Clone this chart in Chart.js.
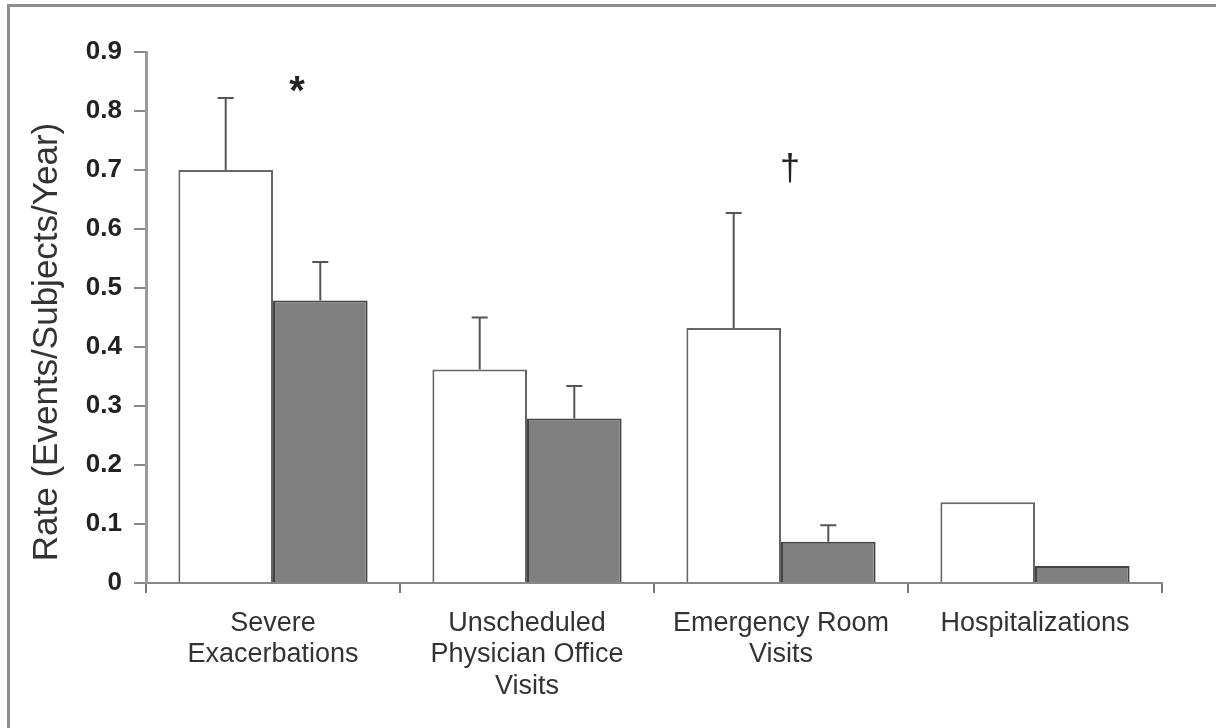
<!DOCTYPE html>
<html>
<head>
<meta charset="utf-8">
<script src="https://cdn.jsdelivr.net/npm/chart.js@4.4.1/dist/chart.umd.min.js"></script>
<style>
  html, body { margin: 0; padding: 0; background: #fff; }
  #wrap { position: relative; width: 1216px; height: 728px; overflow: hidden; }
  #frame { position: absolute; left: 7px; top: 4px; right: -10px; bottom: -10px;
           border-top: 3px solid #8e8e8e; border-left: 3px solid #8e8e8e; pointer-events: none; }
  canvas { position: absolute; left: 0; top: 0; }
</style>
</head>
<body>
<div id="wrap">
  <canvas id="rateChart" width="1216" height="728"></canvas>
  <div id="frame"></div>
</div>
<script>
// data
const categories = [
  ['Severe', 'Exacerbations'],
  ['Unscheduled', 'Physician Office', 'Visits'],
  ['Emergency Room', 'Visits'],
  ['Hospitalizations']
];
const controlRates = [0.70, 0.362, 0.432, 0.137];
const controlErr   = [0.122, 0.088, 0.195, 0];
const treatedRates = [0.479, 0.279, 0.070, 0.029];
const treatedErr   = [0.065, 0.055, 0.028, 0];
const yTicks = [0, 0.1, 0.2, 0.3, 0.4, 0.5, 0.6, 0.7, 0.8, 0.9];
const yTitle = 'Rate (Events/Subjects/Year)';
const marks = [
  { index: 0, value: 0.84, text: '*', dx: 24 },
  { index: 2, value: 0.70, text: '\u2020', dx: 9 }
];

const errors = [controlErr, treatedErr];

// one-sided error bars (upper whisker + cap)
const errorBars = {
  id: 'errorBars',
  afterDatasetsDraw(chart) {
    const { ctx } = chart;
    const y = chart.scales.y;
    ctx.save();
    ctx.strokeStyle = '#555';
    ctx.lineWidth = 2;
    chart.data.datasets.forEach((ds, di) => {
      const meta = chart.getDatasetMeta(di);
      meta.data.forEach((bar, i) => {
        const err = errors[di][i];
        if (!err) return;
        const top = y.getPixelForValue(ds.data[i] + err);
        ctx.beginPath();
        ctx.moveTo(bar.x, bar.y);
        ctx.lineTo(bar.x, top);
        ctx.moveTo(bar.x - 8, top);
        ctx.lineTo(bar.x + 8, top);
        ctx.stroke();
      });
    });
    ctx.restore();
  }
};

// significance marks and the rotated y title
const extras = {
  id: 'extras',
  afterDraw(chart) {
    const { ctx } = chart;
    const x = chart.scales.x, y = chart.scales.y;
    ctx.save();
    ctx.fillStyle = '#222';
    ctx.textAlign = 'center';
    ctx.textBaseline = 'middle';
    marks.forEach(m => {
      ctx.font = m.text === '*' ? 'bold 40px "Liberation Sans", Arial' : '36px "Liberation Sans", Arial';
      ctx.fillText(m.text, x.getPixelForValue(m.index) + m.dx, y.getPixelForValue(m.value) + (m.text === '*' ? 6 : 0));
    });
    ctx.translate(47, 342);
    ctx.rotate(-Math.PI / 2);
    ctx.fillStyle = '#333';
    ctx.font = '35px "Liberation Sans", Arial';
    ctx.fillText(yTitle, 0, 0);
    ctx.restore();
  }
};

new Chart(document.getElementById('rateChart'), {
  type: 'bar',
  data: {
    labels: categories,
    datasets: [
      {
        label: 'Control',
        data: controlRates,
        backgroundColor: '#ffffff',
        borderColor: '#666',
        borderWidth: 2,
        borderSkipped: 'bottom'
      },
      {
        label: 'Treated',
        data: treatedRates,
        backgroundColor: '#808080',
        borderColor: '#444',
        borderWidth: 2,
        borderSkipped: 'bottom'
      }
    ]
  },
  options: {
    responsive: false,
    animation: false,
    devicePixelRatio: 1,
    layout: { padding: { top: 52, right: 54, left: 0, bottom: 0 } },
    datasets: { bar: { categoryPercentage: 0.745, barPercentage: 1.0 } },
    plugins: { legend: { display: false }, tooltip: { enabled: false } },
    scales: {
      x: {
        offset: true,
        grid: { offset: true, drawOnChartArea: false, drawTicks: true, tickLength: 10, color: '#777', lineWidth: 2 },
        border: { color: '#888', width: 2 },
        ticks: {
          autoSkip: false, maxRotation: 0, padding: 15, color: '#333',
          font: { family: '"Liberation Sans", Arial', size: 27, lineHeight: 1.16 }
        },
        afterFit(s) { s.height = 145; }
      },
      y: {
        min: 0, max: 0.9,
        afterBuildTicks(s) { s.ticks = yTicks.map(v => ({ value: v })); },
        grid: { drawOnChartArea: false, drawTicks: true, tickLength: 12, color: '#888', lineWidth: 2 },
        border: { color: '#999', width: 3 },
        ticks: {
          padding: 12, color: '#222',
          font: { family: '"Liberation Sans", Arial', size: 26, weight: 'bold' },
          callback: v => v === 0 ? '0' : v.toFixed(1)
        },
        afterFit(s) { s.width = 146; }
      }
    }
  },
  plugins: [errorBars, extras]
});
</script>
</body>
</html>
